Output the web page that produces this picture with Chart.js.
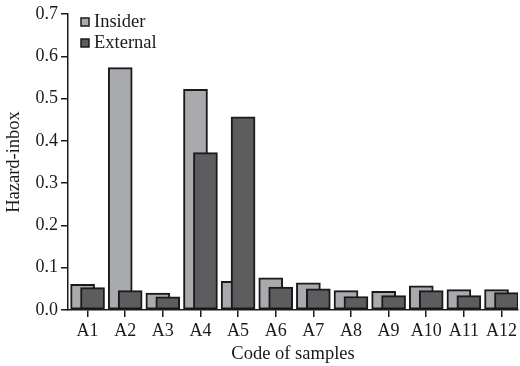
<!DOCTYPE html>
<html>
<head>
<meta charset="utf-8">
<script src="https://cdn.jsdelivr.net/npm/chart.js@4.4.1/dist/chart.umd.min.js"></script>
<style>
  html, body { margin: 0; padding: 0; background: #fff; overflow: hidden; }
  #wrap { width: 520px; height: 366px; }
</style>
</head>
<body>
<div id="wrap"><canvas id="hazardChart"></canvas></div>
<script>
// sample codes and hazard-inbox values
var samples = ["A1", "A2", "A3", "A4", "A5", "A6", "A7", "A8", "A9", "A10", "A11", "A12"];
var insider = [0.061, 0.573, 0.040, 0.522, 0.068, 0.076, 0.064, 0.046, 0.044, 0.057, 0.048, 0.048];
var external = [0.053, 0.046, 0.031, 0.372, 0.457, 0.054, 0.050, 0.032, 0.034, 0.046, 0.034, 0.041];
var yTicks = [0, 0.1, 0.2, 0.3, 0.4, 0.5, 0.6, 0.7];

var serif = "'Liberation Serif', 'Times New Roman', serif";
var shift = 0.132; // half the offset between the two overlapping bars

function toPoints(values, dx) {
  return values.map(function (v, i) { return { x: i + dx, y: v }; });
}

// small legend in the top-left corner of the plot
var cornerLegend = {
  id: 'cornerLegend',
  afterDraw: function (chart) {
    var ctx = chart.ctx;
    var left = chart.chartArea.left;
    ctx.save();
    ctx.font = "18.5px " + serif;
    ctx.textBaseline = 'middle';
    chart.data.datasets.forEach(function (ds, k) {
      var cy = 22 + k * 21;
      ctx.fillStyle = ds.backgroundColor;
      ctx.fillRect(left + 13, cy - 4, 8, 8);
      ctx.strokeStyle = '#1a1a1a';
      ctx.lineWidth = 1.5;
      ctx.strokeRect(left + 13, cy - 4, 8, 8);
      ctx.fillStyle = '#1a1a1a';
      ctx.fillText(ds.label, left + 26, cy);
    });
    ctx.restore();
  }
};

var ctxH = document.getElementById("hazardChart").getContext('2d');
var hazardChart = new Chart(ctxH, {
  type: 'bar',
  data: {
    datasets: [{
      label: 'Insider',
      data: toPoints(insider, -shift),
      backgroundColor: '#a9aaad',
      borderColor: '#1a1a1a',
      borderWidth: 2,
      borderSkipped: false,
      order: 1
    }, {
      label: 'External',
      data: toPoints(external, shift),
      backgroundColor: '#5d5d60',
      borderColor: '#1a1a1a',
      borderWidth: 2,
      borderSkipped: false,
      order: 0
    }]
  },
  options: {
    responsive: true,
    maintainAspectRatio: false,
    animation: false,
    layout: { padding: { top: 14, right: 0, left: 0, bottom: 0 } },
    datasets: { bar: { grouped: false, barThickness: 24 } },
    plugins: {
      legend: { display: false },
      tooltip: { enabled: false }
    },
    scales: {
      x: {
        type: 'linear',
        offset: false,
        min: -0.52,
        max: 11.44,
        afterBuildTicks: function (scale) {
          scale.ticks = samples.map(function (s, i) { return { value: i }; });
        },
        afterFit: function (scale) { scale.height = 56; },
        grid: { offset: false, drawOnChartArea: false, color: '#1a1a1a', lineWidth: 1.5, tickLength: 7 },
        border: { display: true, color: '#1a1a1a', width: 1.5 },
        ticks: {
          color: '#1a1a1a',
          padding: 3,
          maxRotation: 0,
          autoSkip: false,
          font: { family: serif, size: 18 },
          callback: function (v) { return samples[v]; }
        },
        title: {
          display: true,
          text: 'Code of samples',
          color: '#1a1a1a',
          padding: { top: 0, bottom: 1 },
          font: { family: serif, size: 18.5 }
        }
      },
      y: {
        min: 0,
        max: 0.7,
        afterBuildTicks: function (scale) {
          scale.ticks = yTicks.map(function (v) { return { value: v }; });
        },
        afterFit: function (scale) { scale.width = 68; },
        grid: { drawOnChartArea: false, color: '#1a1a1a', lineWidth: 1.5, tickLength: 7 },
        border: { display: true, color: '#1a1a1a', width: 1.5 },
        ticks: {
          color: '#1a1a1a',
          padding: 3,
          font: { family: serif, size: 18 },
          callback: function (v) { return v.toFixed(1); }
        },
        title: {
          display: true,
          text: 'Hazard-inbox',
          color: '#1a1a1a',
          padding: { top: 3, bottom: 4 },
          font: { family: serif, size: 18.5 }
        }
      }
    }
  },
  plugins: [cornerLegend]
});
</script>
</body>
</html>
